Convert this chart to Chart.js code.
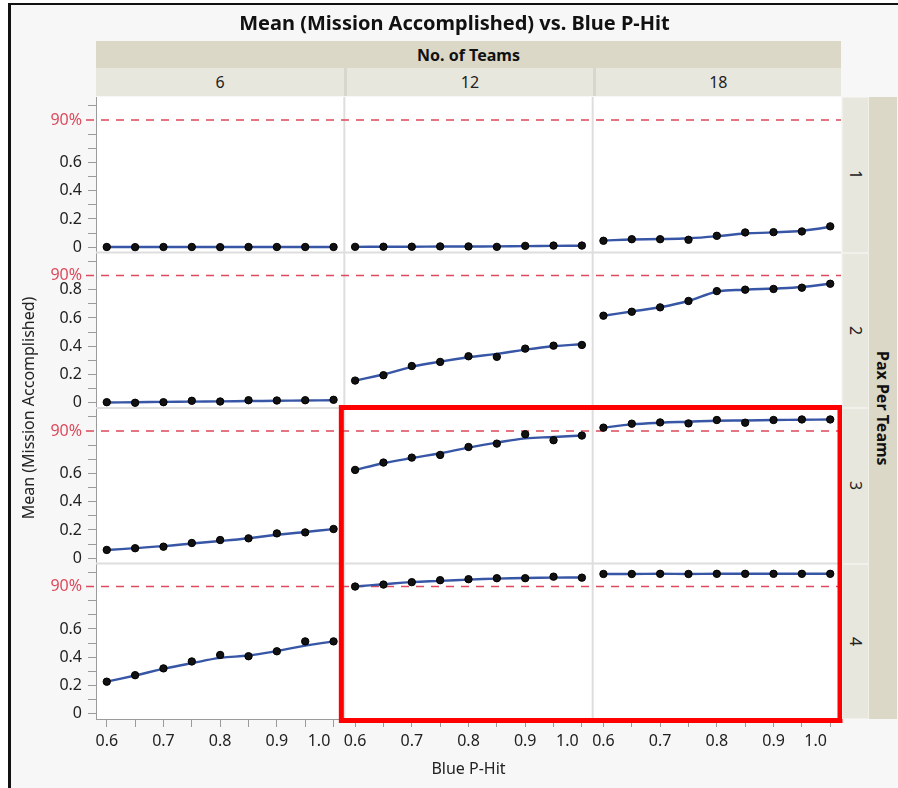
<!DOCTYPE html>
<html>
<head>
<meta charset="utf-8">
<title>Mean (Mission Accomplished) vs. Blue P-Hit</title>
<script src="https://cdn.jsdelivr.net/npm/chart.js@4.4.1/dist/chart.umd.min.js"></script>
<style>
  html, body { margin: 0; padding: 0; }
  body { width: 898px; height: 788px; position: relative; overflow: hidden; background: #fff;
         font-family: "Noto Sans", sans-serif; color: #222; }
  #frame { position: absolute; left: 8px; top: 3px; right: 0; bottom: 0; background: #f7f7f7;
           border-left: 3px solid #111; border-top: 2px solid #111; }
  #chart { position: absolute; left: 0; top: 0; }
  .lbl { position: absolute; display: flex; align-items: center; justify-content: center;
         box-sizing: border-box; white-space: nowrap; z-index: 2; }
  #title { left: 11px; right: 0; top: 8px; height: 28px; font-size: 20px; font-weight: bold; color: #111; }
  .band { background: #dbd8c7; font-weight: bold; font-size: 16px; color: #111; }
  .cell { background: #e8e7de; font-size: 16px; }
  .vert { writing-mode: vertical-rl; }
  .ytitle { font-size: 16px; transform: rotate(-90deg); }
  .xtitle { font-size: 16px; }
</style>
</head>
<body>
<div id="frame"></div>
<div id="title" class="lbl">Mean (Mission Accomplished) vs. Blue P-Hit</div>
<canvas id="chart" width="898" height="788"></canvas>
<script>
// --- DATA ---
const blueHit = [0.6, 0.65, 0.7, 0.75, 0.8, 0.85, 0.9, 0.95, 1.0];
const teams = ['6', '12', '18'];
const paxPerTeam = ['1', '2', '3', '4'];
const targetLevel = 0.9;

// gemiddelde per cel (zwarte punten)
const meanPax1Teams6  = [0.002, 0.001, 0.002, 0.002, 0.001, 0.002, 0.002, 0.002, 0.002];
const meanPax1Teams12 = [0.003, 0.004, 0.004, 0.006, 0.006, 0.003, 0.010, 0.012, 0.012];
const meanPax1Teams18 = [0.046, 0.057, 0.057, 0.053, 0.081, 0.105, 0.107, 0.112, 0.148];
const meanPax2Teams6  = [0.004, 0.000, 0.004, 0.014, 0.009, 0.018, 0.016, 0.018, 0.021];
const meanPax2Teams12 = [0.157, 0.195, 0.260, 0.289, 0.329, 0.325, 0.383, 0.404, 0.409];
const meanPax2Teams18 = [0.616, 0.644, 0.675, 0.720, 0.790, 0.800, 0.805, 0.814, 0.842];
const meanPax3Teams6  = [0.059, 0.071, 0.082, 0.108, 0.129, 0.141, 0.176, 0.183, 0.207];
const meanPax3Teams12 = [0.625, 0.677, 0.712, 0.731, 0.787, 0.811, 0.877, 0.835, 0.868];
const meanPax3Teams18 = [0.924, 0.952, 0.961, 0.954, 0.978, 0.959, 0.978, 0.982, 0.982];
const meanPax4Teams6  = [0.227, 0.273, 0.321, 0.370, 0.416, 0.407, 0.442, 0.512, 0.512];
const meanPax4Teams12 = [0.900, 0.914, 0.931, 0.945, 0.952, 0.959, 0.959, 0.970, 0.963];
const meanPax4Teams18 = [0.989, 0.989, 0.990, 0.989, 0.990, 0.990, 0.990, 0.990, 0.990];

// smoother (blauwe lijn)
const fitPax1Teams6  = [0.002, 0.002, 0.002, 0.002, 0.002, 0.002, 0.002, 0.002, 0.002];
const fitPax1Teams12 = [0.003, 0.004, 0.004, 0.005, 0.005, 0.006, 0.008, 0.010, 0.011];
const fitPax1Teams18 = [0.047, 0.055, 0.058, 0.064, 0.078, 0.097, 0.105, 0.117, 0.143];
const fitPax2Teams6  = [0.002, 0.004, 0.006, 0.008, 0.010, 0.012, 0.014, 0.016, 0.018];
const fitPax2Teams12 = [0.157, 0.200, 0.254, 0.291, 0.322, 0.346, 0.376, 0.400, 0.414];
const fitPax2Teams18 = [0.616, 0.646, 0.676, 0.720, 0.785, 0.800, 0.808, 0.819, 0.842];
const fitPax3Teams6  = [0.058, 0.072, 0.086, 0.104, 0.122, 0.142, 0.166, 0.186, 0.206];
const fitPax3Teams12 = [0.625, 0.672, 0.709, 0.743, 0.783, 0.818, 0.848, 0.858, 0.868];
const fitPax3Teams18 = [0.924, 0.947, 0.959, 0.966, 0.973, 0.975, 0.978, 0.980, 0.982];
const fitPax4Teams6  = [0.227, 0.271, 0.318, 0.358, 0.395, 0.412, 0.444, 0.482, 0.512];
const fitPax4Teams12 = [0.900, 0.916, 0.931, 0.940, 0.949, 0.956, 0.960, 0.963, 0.964];
const fitPax4Teams18 = [0.989, 0.989, 0.990, 0.989, 0.990, 0.990, 0.990, 0.990, 0.990];

// ticks (laatste label schuift naar links, zoals in JMP, door de spaties)
const xTicks = [0.6, 0.65, 0.7, 0.75, 0.8, 0.85, 0.9, 0.95, 1.0];
const xTickLabels = ['0.6', '', '0.7', '', '0.8', '', '0.9', '', '1.0\u00a0\u00a0\u00a0\u00a0\u00a0\u00a0\u00a0'];
const yTicks = [0, 0.1, 0.2, 0.3, 0.4, 0.5, 0.6, 0.7, 0.8, 0.9, 1.0];
const yTickLabels = ['0', '', '0.2', '', '0.4', '', '0.6', '', '', '90%', ''];
const yTickLabelsPax2 = ['0', '', '0.2', '', '0.4', '', '0.6', '', '0.8', '90%', ''];

// rij = pax per team, kolom = aantal teams
const means = [
    [meanPax1Teams6, meanPax1Teams12, meanPax1Teams18],
    [meanPax2Teams6, meanPax2Teams12, meanPax2Teams18],
    [meanPax3Teams6, meanPax3Teams12, meanPax3Teams18],
    [meanPax4Teams6, meanPax4Teams12, meanPax4Teams18]
];
const fits = [
    [fitPax1Teams6, fitPax1Teams12, fitPax1Teams18],
    [fitPax2Teams6, fitPax2Teams12, fitPax2Teams18],
    [fitPax3Teams6, fitPax3Teams12, fitPax3Teams18],
    [fitPax4Teams6, fitPax4Teams12, fitPax4Teams18]
];
// rode markering rond deze panelen
const highlight = { cols: [1, 2], rows: [2, 3] };

const FONT = '"Noto Sans", sans-serif';
const AXIS_GRAY = '#9b9b9b';
const RED_LINE = '#dc4a5c';

// --- DATASETS ---
const datasets = [];
means.forEach((row, r) => {
    row.forEach((vals, c) => {
        datasets.push({
            data: blueHit.map((x, i) => ({ x, y: vals[i] })),
            xAxisID: 'x' + c, yAxisID: 'y' + r,
            showLine: false, pointRadius: 3.7, pointBorderWidth: 1,
            pointBackgroundColor: '#111', pointBorderColor: '#000', order: 0
        });
        datasets.push({
            data: blueHit.map((x, i) => ({ x, y: fits[r][c][i] })),
            xAxisID: 'x' + c, yAxisID: 'y' + r,
            borderColor: '#3856a6', borderWidth: 2.4, pointRadius: 0,
            tension: 0.4, order: 1
        });
    });
});

// --- SCALES ---
const scales = {};
teams.forEach((t, c) => {
    scales['x' + c] = {
        type: 'linear', position: 'bottom', stack: 'cols', stackWeight: 1,
        min: 0.581, max: 1.019,
        afterBuildTicks: s => { s.ticks = xTicks.map(v => ({ value: v })); },
        afterFit: s => { s.height = 36; },
        grid: { drawOnChartArea: false, drawTicks: true, tickLength: 8, color: AXIS_GRAY },
        border: { display: true, color: AXIS_GRAY, width: 1 },
        ticks: {
            autoSkip: false, maxRotation: 0, padding: 5, color: '#222',
            font: { family: FONT, size: 16 },
            callback: (v, i) => xTickLabels[i]
        }
    };
});
paxPerTeam.forEach((p, r) => {
    const labels = r === 1 ? yTickLabelsPax2 : yTickLabels;
    scales['y' + r] = {
        type: 'linear', position: 'left', stack: 'rows', stackWeight: 1,
        weight: paxPerTeam.length - r,
        min: -0.037, max: 1.063,
        afterBuildTicks: s => { s.ticks = yTicks.map(v => ({ value: v })); },
        afterFit: s => { s.width = 46; },
        grid: {
            drawOnChartArea: false, drawTicks: true, tickLength: 8,
            color: AXIS_GRAY,
            tickColor: ctx => (ctx.tick && ctx.tick.value === targetLevel) ? 'rgba(0,0,0,0)' : AXIS_GRAY
        },
        border: { display: true, color: AXIS_GRAY, width: 1 },
        ticks: {
            autoSkip: false, padding: 6,
            color: ctx => (ctx.tick && ctx.tick.value === targetLevel) ? RED_LINE : '#222',
            font: { family: FONT, size: 16 },
            callback: (v, i) => labels[i]
        }
    };
});

// --- PLUGIN: panelen, 90%-lijn, markering ---
function strokeLine(ctx, x1, y1, x2, y2) {
    ctx.beginPath(); ctx.moveTo(x1, y1); ctx.lineTo(x2, y2); ctx.stroke();
}

const trellisPlugin = {
    id: 'trellis',
    beforeDraw(chart) {
        const { ctx, chartArea: a } = chart;
        ctx.save();
        ctx.fillStyle = '#fff';
        ctx.fillRect(a.left, a.top, a.width, a.height);
        ctx.restore();
    },
    beforeDatasetsDraw(chart) {
        const { ctx, chartArea: a } = chart;
        ctx.save();
        ctx.strokeStyle = '#dedede';
        ctx.lineWidth = 2;
        teams.slice(0, -1).forEach((t, c) => {
            const x = chart.scales['x' + c].right;
            strokeLine(ctx, x, a.top, x, a.bottom);
        });
        paxPerTeam.slice(0, -1).forEach((p, r) => {
            const y = chart.scales['y' + r].bottom;
            strokeLine(ctx, a.left, y, a.right, y);
        });
        ctx.strokeStyle = RED_LINE;
        ctx.lineWidth = 1.5;
        ctx.setLineDash([8, 7]);
        paxPerTeam.forEach((p, r) => {
            const s = chart.scales['y' + r];
            const y = s.getPixelForValue(targetLevel);
            strokeLine(ctx, s.right - 10, y, a.right, y);
        });
        ctx.restore();
    },
    afterDraw(chart) {
        const { ctx } = chart;
        const l = chart.scales['x' + highlight.cols[0]].left;
        const r = chart.scales['x' + highlight.cols[highlight.cols.length - 1]].right;
        const t = chart.scales['y' + highlight.rows[0]].top;
        const b = chart.scales['y' + highlight.rows[highlight.rows.length - 1]].bottom;
        ctx.save();
        ctx.strokeStyle = '#ff0000';
        ctx.lineWidth = 5;
        ctx.strokeRect(l - 3, t - 0.5, r - l + 2, b - t + 2);
        ctx.restore();
    }
};

// --- STRIPS EN ASTITELS (HTML) ---
function addLabel(text, cls, left, top, width, height) {
    const d = document.createElement('div');
    d.className = 'lbl ' + cls;
    d.style.left = left + 'px'; d.style.top = top + 'px';
    d.style.width = width + 'px'; d.style.height = height + 'px';
    const span = document.createElement('span');
    span.textContent = text;
    d.appendChild(span);
    document.body.appendChild(d);
    return d;
}

function placeStrips(chart) {
    const a = chart.chartArea;
    addLabel('No. of Teams', 'band', a.left, 41, a.width, 27);
    teams.forEach((t, c) => {
        const s = chart.scales['x' + c];
        const d = addLabel(t, 'cell', s.left, 68, s.width, 28);
        if (c > 0) d.style.borderLeft = '3px solid #d8d7ce';
    });
    paxPerTeam.forEach((p, r) => {
        const s = chart.scales['y' + r];
        const d = addLabel(p, 'cell vert', a.right + 1, s.top, 27, s.height);
        d.style.border = '1px solid #f1f0ea';
    });
    addLabel('Pax Per Teams', 'band vert', a.right + 28, a.top, 28, a.height);
    addLabel('Mean (Mission Accomplished)', 'ytitle', 28 - 150, (a.top + a.bottom) / 2 - 12, 300, 24);
    addLabel('Blue P-Hit', 'xtitle', a.left, 756, a.width, 24);
}

const chart = new Chart(document.getElementById('chart'), {
    type: 'line',
    data: { datasets },
    options: {
        responsive: false,
        animation: false,
        layout: { autoPadding: false, padding: { left: 50, top: 97, right: 57, bottom: 33 } },
        plugins: { legend: { display: false }, title: { display: false }, tooltip: { enabled: false } },
        scales
    },
    plugins: [trellisPlugin]
});

placeStrips(chart);
</script>
</body>
</html>
